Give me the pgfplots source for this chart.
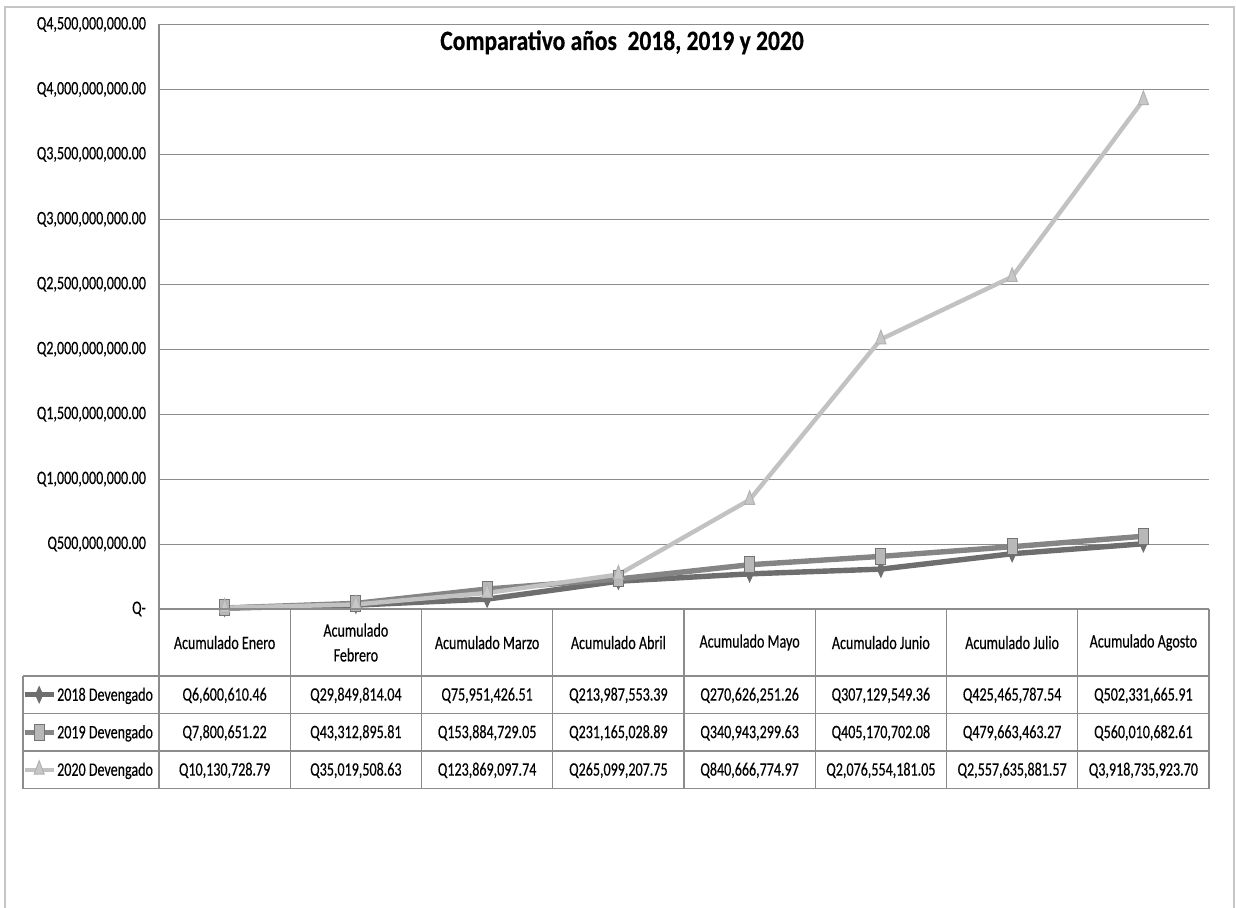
\documentclass[border=0pt]{standalone}
\usepackage{fontspec}
\setmainfont{Carlito}[FakeStretch=0.74, FakeBold=0.35]
\newfontfamily\titlefont{Carlito}[FakeStretch=0.84, FakeBold=0.4]
\usepackage{pgfplots}
\pgfplotsset{compat=1.18}
\definecolor{cA}{HTML}{6E6E6E}
\definecolor{cB}{HTML}{858585}
\definecolor{cC}{HTML}{C2C2C2}
\definecolor{gridc}{HTML}{8C8C8C}
\newcommand{\tf}{\fontsize{9.5}{11.4}\selectfont}
\begin{document}
\begin{tikzpicture}[x=1pt,y=1pt]
\path[use as bounding box] (0,0) rectangle (618,453.5);
\draw[gray!45, line width=0.6pt] (2.5,-2)--(2.5,450)--(617,450)--(617,-2);
\begin{axis}[
  at={(79.5pt,149pt)}, anchor=south west, scale only axis,
  width=525pt, height=292.25pt,
  xmin=-0.5, xmax=7.5, ymin=0, ymax=4500000000,
  scaled y ticks=false,
  xtick=\empty,
  ytick={0,500000000,1000000000,1500000000,2000000000,2500000000,3000000000,3500000000,4000000000,4500000000},
  yticklabels={{Q-},{Q500,000,000.00},{Q1,000,000,000.00},{Q1,500,000,000.00},{Q2,000,000,000.00},{Q2,500,000,000.00},{Q3,000,000,000.00},{Q3,500,000,000.00},{Q4,000,000,000.00},{Q4,500,000,000.00}},
  yticklabel style={font=\tf, xshift=-3pt},
  ymajorgrids, grid style={gridc, line width=0.5pt},
  major tick length=0pt,
  axis line style={draw=none},
  clip=false,
  legend style={at={(-0.1305,-0.1146)}, anchor=north west, draw=none, fill=none,
    inner sep=0pt, outer sep=0pt, row sep=0pt, column sep=0pt, legend cell align=left,
    font=\tf,
    nodes={inner xsep=0.4pt, inner ysep=0pt, text height=12.4pt, text depth=6.35pt}},
  legend image code/.code={\draw[mark repeat=2,mark phase=2,#1] plot coordinates {(0pt,0pt) (7.25pt,0pt) (14.5pt,0pt)};},
]
\draw[gridc, line width=0.6pt] (rel axis cs:0,0) -- (rel axis cs:0,1);
\addplot[cA, line width=2.7pt, mark=diamond*, mark size=4pt, mark options={xscale=0.6, fill=cA, draw=cA, line width=0.5pt}] coordinates {
(0,6600610.46) (1,29849814.04) (2,75951426.51) (3,213987553.39) (4,270626251.26) (5,307129549.36) (6,425465787.54) (7,502331665.91)};
\addlegendentry{2018 Devengado}
\addplot[cB, line width=2.7pt, mark=square*, mark size=4pt, mark options={xscale=0.62, fill=black!28, draw=black!55, line width=0.5pt}] coordinates {
(0,7800651.22) (1,43312895.81) (2,153884729.05) (3,231165028.89) (4,340943299.63) (5,405170702.08) (6,479663463.27) (7,560010682.61)};
\addlegendentry{2019 Devengado}
\addplot[cC, line width=2.2pt, mark=triangle*, mark size=4.5pt, mark options={xscale=0.65, fill=black!22, draw=black!30, line width=0.5pt}] coordinates {
(0,10130728.79) (1,35019508.63) (2,123869097.74) (3,265099207.75) (4,840666774.97) (5,2076554181.05) (6,2557635881.57) (7,3918735923.70)};
\addlegendentry{2020 Devengado}
\end{axis}
% table grid
\begin{scope}[gridc, line width=0.6pt]
\draw (79.5,149) -- (604.5,149);
\draw (11.5,115.5) -- (604.5,115.5);
\draw (11.5,96.75) -- (604.5,96.75);
\draw (11.5,78) -- (604.5,78);
\draw (11.5,59.25) -- (604.5,59.25);
\draw (11.5,115.5) -- (11.5,59.25);
\foreach \k in {0,...,8} { \draw ({79.5+65.625*\k},149) -- ({79.5+65.625*\k},59.25); }
\end{scope}
% title
\node[anchor=base, font=\fontsize{14}{16}\titlefont\bfseries, inner sep=0pt] at (311,428.5) {Comparativo años\ \ 2018, 2019 y 2020};
% header
\begin{scope}[every node/.style={font=\tf, inner sep=0pt, align=center}]
\node at (112.31,132.25) {Acumulado Enero};
\node at (177.94,132.25) {Acumulado\\[1pt]Febrero};
\node at (243.56,132.25) {Acumulado Marzo};
\node at (309.19,132.25) {Acumulado Abril};
\node at (374.81,132.25) {Acumulado Mayo};
\node at (440.44,132.25) {Acumulado Junio};
\node at (506.06,132.25) {Acumulado Julio};
\node at (571.69,132.25) {Acumulado Agosto};
\end{scope}
\begin{scope}[every node/.style={font=\tf, inner sep=0pt, anchor=base}]
% row 2018 (baseline)
\node at (112.31,103.2) {Q6,600,610.46};
\node at (177.94,103.2) {Q29,849,814.04};
\node at (243.56,103.2) {Q75,951,426.51};
\node at (309.19,103.2) {Q213,987,553.39};
\node at (374.81,103.2) {Q270,626,251.26};
\node at (440.44,103.2) {Q307,129,549.36};
\node at (506.06,103.2) {Q425,465,787.54};
\node at (571.69,103.2) {Q502,331,665.91};
% row 2019
\node at (112.31,84.45) {Q7,800,651.22};
\node at (177.94,84.45) {Q43,312,895.81};
\node at (243.56,84.45) {Q153,884,729.05};
\node at (309.19,84.45) {Q231,165,028.89};
\node at (374.81,84.45) {Q340,943,299.63};
\node at (440.44,84.45) {Q405,170,702.08};
\node at (506.06,84.45) {Q479,663,463.27};
\node at (571.69,84.45) {Q560,010,682.61};
% row 2020
\node at (112.31,65.7) {Q10,130,728.79};
\node at (177.94,65.7) {Q35,019,508.63};
\node at (243.56,65.7) {Q123,869,097.74};
\node at (309.19,65.7) {Q265,099,207.75};
\node at (374.81,65.7) {Q840,666,774.97};
\node at (440.44,65.7) {Q2,076,554,181.05};
\node at (506.06,65.7) {Q2,557,635,881.57};
\node at (571.69,65.7) {Q3,918,735,923.70};
\end{scope}
\end{tikzpicture}
\end{document}
